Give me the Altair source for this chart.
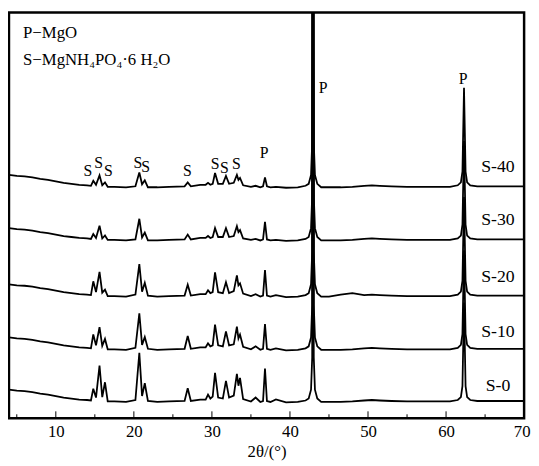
import altair as alt
import pandas as pd

# 2-theta sample points (degrees)
two_theta = [
    4.0, 5.0, 6.0, 7.0, 8.0, 9.0, 10.0, 11.0, 12.0, 13.0,
    14.0, 14.5, 14.8, 15.15, 15.6, 15.95, 16.3, 16.65, 17.5, 19.0,
    20.2, 20.7, 21.05, 21.4, 21.8, 23.0, 24.5, 26.5, 26.9, 27.3,
    28.5, 29.2, 29.5, 29.8, 30.1, 30.4, 30.8, 31.4, 31.8, 32.2,
    32.8, 33.2, 33.4, 33.6, 34.0, 35.0, 35.6, 36.2, 36.55, 36.8,
    37.05, 37.5, 38.2, 39.5, 41.0, 42.0, 42.4, 42.7, 42.85, 42.95,
    43.05, 43.2, 43.5, 44.0, 45.0, 46.5, 48.0, 49.5, 50.5, 51.5,
    53.0, 55.0, 57.0, 59.0, 60.5, 61.5, 61.9, 62.1, 62.3, 62.5,
    62.7, 63.1, 64.0, 66.0, 68.0, 70.0,
]

# shared background level above each trace's baseline
background = [
    13, 12, 11.5, 10.5, 9, 8, 6.5, 5, 4, 3,
    2.5, 2, 2, 2, 1.5, 1.5, 1.5, 1, 1, 0.5,
    0.5, 0.5, 0.5, 0.5, 0.5, 0.5, 1, 1.5, 1.5, 1.5,
    2, 2, 2, 2, 2, 2, 2, 2, 2, 2,
    2, 2, 2, 2, 1.5, 1, 1, 0.5, 0.5, 0.5,
    0.5, 0.5, 0, 0, 0.5, 1, 1, 1, 1, 1,
    1, 1, 1, 0.5, 0.5, 0.5, 1, 2, 2.5, 2,
    1.5, 1, 1, 1, 1, 1.5, 1.5, 1.5, 1.5, 1.5,
    1.5, 1.5, 1.5, 1.5, 1.5, 1.5,
]

# diffraction peak heights for each sample
s0 = [
    0, 0, 0, 0, 0, 0, 0, 0, 0, 0,
    0, 0, 12, 3, 36, 4, 19, 0, 0, 0,
    2, 50, 6, 19, 1, 0, 0, 0, 13, 0,
    1, 1, 6, 2, 4, 28, 3, 2, 20, 3,
    5, 27, 15, 23, 2, 0, 4, 0, 1, 34,
    1, 0, 3, 0, 0, 1, 3, 12, 45, 600,
    45, 12, 3, 0, 0, 0, 0, 0, 0, 0,
    0, 0, 0, 0, 0, 1, 4, 15, 100, 15,
    4, 1, 0, 0, 0, 0,
]
s10 = [
    0, 0, 0, 0, 0, 0, 0, 0, 0, 0,
    0, 0, 14, 3, 22, 3, 10, 0, 0, 0,
    2, 37, 5, 13, 1, 0, 0, 0, 13, 0,
    1, 1, 5, 2, 3, 24, 3, 2, 17, 3,
    4, 22, 10, 14, 2, 0, 3, 0, 1, 26,
    1, 0, 2, 0, 0, 1, 3, 12, 45, 600,
    45, 12, 3, 0, 0, 0, 0, 0, 0, 0,
    0, 0, 0, 0, 0, 1, 4, 15, 100, 15,
    4, 1, 0, 0, 0, 0,
]
s20 = [
    0, 0, 0, 0, 0, 0, 0, 0, 0, 0,
    0, 0, 14, 3, 24, 3, 6, 0, 0, 0,
    2, 33, 5, 14, 1, 0, 0, 0, 11, 0,
    1, 1, 5, 2, 3, 23, 3, 2, 13, 2,
    4, 20, 10, 12, 2, 0, 2, 0, 1, 27,
    1, 0, 2, 0, 0, 1, 3, 12, 45, 600,
    45, 12, 3, 0, 0, 2, 3, 0, 0, 0,
    0, 0, 0, 0, 0, 1, 4, 15, 100, 15,
    4, 1, 0, 0, 0, 0,
]
s30 = [
    0, 0, 0, 0, 0, 0, 0, 0, 0, 0,
    0, 0, 5, 1, 14, 1, 4, 0, 0, 0,
    1, 22, 3, 8, 0, 0, 0, 0, 5, 0,
    1, 1, 3, 1, 2, 11, 2, 2, 11, 2,
    3, 13, 7, 9, 1, 0, 1, 0, 1, 19,
    1, 0, 1, 0, 0, 1, 3, 12, 45, 600,
    45, 12, 3, 0, 0, 0, 0, 0, 0, 0,
    0, 0, 0, 0, 0, 1, 4, 15, 100, 15,
    4, 1, 0, 0, 0, 0,
]
s40 = [
    0, 0, 0, 0, 0, 0, 0, 0, 0, 0,
    0, 0, 5, 1, 11, 1, 4, 0, 0, 0,
    1, 15, 3, 7, 0, 0, 0, 0, 4, 0,
    1, 1, 3, 1, 2, 13, 2, 2, 10, 2,
    3, 11, 6, 8, 1, 0, 1, 0, 1, 10,
    1, 0, 1, 0, 0, 1, 3, 12, 45, 600,
    45, 12, 3, 0, 0, 0, 0, 0, 0, 0,
    0, 0, 0, 0, 0, 1, 4, 15, 100, 15,
    4, 1, 0, 0, 0, 0,
]

sample_names = ["S-0", "S-10", "S-20", "S-30", "S-40"]
sample_offsets = [16, 69, 123, 180, 234]
sample_peaks = [s0, s10, s20, s30, s40]

# sample labels on the right
label_x = [66.65, 66.65, 66.65, 66.65, 66.65]
label_y = [33, 87, 143, 201, 255]

# phase markers above S-40
marker_text = ["S", "S", "S", "S", "S", "S", "S", "S", "S", "P", "P", "P"]
marker_x = [14.1, 15.5, 16.75, 20.5, 21.5, 26.85, 30.4, 31.6, 33.15, 36.7, 44.25, 62.2]
marker_y = [251, 259, 251, 259, 255, 251, 258, 254, 258, 269, 335, 344]

legend_lines = ["P\u2212MgO", "S\u2212MgNH\u2084PO\u2084\u00b76 H\u2082O"]
legend_x = [5.8, 5.8]
legend_y = [391, 364]

major_ticks = [10, 20, 30, 40, 50, 60]
minor_ticks = [5, 15, 25, 35, 45, 55, 65]
tick_labels = [10, 20, 30, 40, 50, 60, 70]

rows = []
for name, off, pk in zip(sample_names, sample_offsets, sample_peaks):
    for x, b, h in zip(two_theta, background, pk):
        rows.append({"two_theta": x, "intensity": off + b + h, "sample": name})
df = pd.DataFrame(rows)

FONT = "Liberation Serif"
x_scale = alt.Scale(domain=[4, 70], nice=False, zero=False)
y_scale = alt.Scale(domain=[0, 412], nice=False, zero=False)

lines = alt.Chart(df).mark_line(color="black", strokeWidth=1.8, clip=True).encode(
    x=alt.X("two_theta:Q", scale=x_scale,
            axis=alt.Axis(values=tick_labels, format="d", title="2\u03b8/(\u00b0)")),
    y=alt.Y("intensity:Q", scale=y_scale, axis=None),
    detail="sample:N",
)

labels = alt.Chart(pd.DataFrame({"x": label_x, "y": label_y, "t": sample_names})).mark_text(
    font=FONT, fontSize=18, color="black", align="center", baseline="middle"
).encode(x=alt.X("x:Q", scale=x_scale), y=alt.Y("y:Q", scale=y_scale), text="t:N")

markers = alt.Chart(pd.DataFrame({"x": marker_x, "y": marker_y, "t": marker_text})).mark_text(
    font=FONT, fontSize=16, color="black", align="center", baseline="middle"
).encode(x=alt.X("x:Q", scale=x_scale), y=alt.Y("y:Q", scale=y_scale), text="t:N")

legend = alt.Chart(pd.DataFrame({"x": legend_x, "y": legend_y, "t": legend_lines})).mark_text(
    font=FONT, fontSize=17, color="black", align="left", baseline="middle"
).encode(x=alt.X("x:Q", scale=x_scale), y=alt.Y("y:Q", scale=y_scale), text="t:N")

major = alt.Chart(pd.DataFrame({"x": major_ticks})).mark_rule(color="black", strokeWidth=1).encode(
    x=alt.X("x:Q", scale=x_scale), y=alt.value(412), y2=alt.value(405)
)
minor = alt.Chart(pd.DataFrame({"x": minor_ticks})).mark_rule(color="black", strokeWidth=1).encode(
    x=alt.X("x:Q", scale=x_scale), y=alt.value(412), y2=alt.value(408)
)

chart = alt.layer(lines, major, minor, labels, markers, legend).properties(
    width=523, height=412,
    autosize=alt.AutoSizeParams(type="none"),
    padding={"left": 1, "top": 1, "right": 7, "bottom": 45},
).configure_view(
    stroke="black", strokeWidth=2.5
).configure_axis(
    labelFont=FONT, labelFontSize=17, labelColor="black", labelPadding=6,
    titleFont=FONT, titleFontSize=17, titleFontWeight="normal", titleColor="black",
    titlePadding=4, ticks=False, domain=False, grid=False,
    labelFlush=True, labelFlushOffset=6,
)

chart.save("out.html", embed_options={"renderer": "svg", "actions": False})
